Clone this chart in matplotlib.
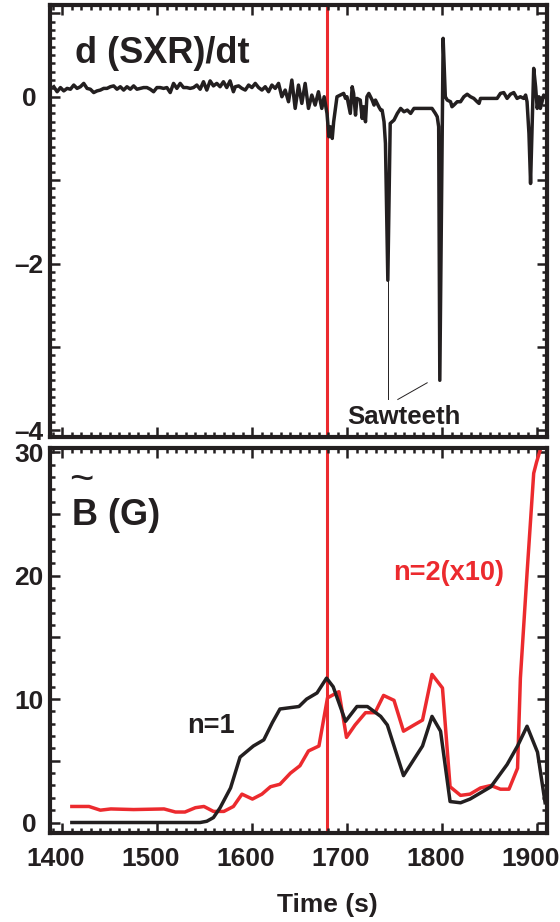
import matplotlib
matplotlib.use("Agg")
import matplotlib.pyplot as plt
import matplotlib.transforms as mtransforms
from matplotlib import font_manager
from matplotlib.ticker import MultipleLocator, FixedLocator

# pick a narrow bold sans if present
names = {f.name for f in font_manager.fontManager.ttflist}
FONT = "Liberation Sans Narrow" if "Liberation Sans Narrow" in names else "Liberation Sans"
plt.rcParams["font.family"] = [FONT, "DejaVu Sans"]
plt.rcParams["font.weight"] = "bold"

BLACK = "#231f20"
RED = "#ec2a2e"

# --- d(SXR)/dt trace (top panel) ---
sxr_time = [
    1391, 1394.5, 1398, 1401.5, 1405, 1408.5, 1412, 1415.5, 1419, 1422.5,
    1426, 1429.5, 1433, 1436.5, 1440, 1443.5, 1447, 1450.5, 1454, 1457.5,
    1461, 1464.5, 1468, 1471.5, 1475, 1478.5, 1482, 1485.5,
    1489, 1492.5, 1496, 1499.5, 1503, 1506.5, 1510, 1513.5, 1517, 1520.5,
    1524, 1527.5, 1531, 1534.5, 1538, 1541.5, 1545, 1548.5, 1552, 1555.5,
    1559, 1562.5, 1566, 1569.5, 1573, 1576.5, 1580,
    1582, 1585.5, 1589, 1592.5, 1596, 1599.5, 1603, 1606.5, 1610, 1613.5,
    1617, 1620.5, 1624, 1627.5, 1631, 1634.5, 1638, 1641.5, 1645, 1648.5,
    1652, 1655.5, 1659, 1662.5, 1666, 1669.5, 1673, 1675.5,
    1678.5, 1680.5, 1682, 1684, 1685.5, 1689, 1692.5, 1696, 1698, 1699.5,
    1703, 1705, 1706.5, 1708.5, 1710, 1713.5, 1715.5, 1717, 1719, 1720.5,
    1722.5, 1726, 1728, 1729.5, 1733, 1735, 1736.5, 1738.5, 1740, 1742.5,
    1745, 1747, 1749, 1752.5, 1756, 1759.5, 1763, 1766.5, 1770, 1777,
    1784, 1789, 1792.5, 1794.5, 1796, 1797.2, 1800.7, 1803, 1805, 1808.5,
    1810, 1812, 1815.5, 1819, 1822.5, 1826, 1829.5, 1833, 1836.5, 1838.5,
    1840, 1857.5, 1861, 1864.5, 1868, 1871.5, 1875, 1878.5, 1882, 1885.5,
    1887.5, 1889, 1891, 1892.7, 1896, 1898, 1899.7, 1901.5, 1903, 1906.5,
    1908.5, 1910,
]
sxr_value = [
    0.12, 0.06, 0.11, 0.07, 0.10, 0.09, 0.14, 0.10, 0.12, 0.16,
    0.10, 0.09, 0.05, 0.07, 0.08, 0.10, 0.10, 0.12, 0.13, 0.09,
    0.12, 0.08, 0.12, 0.09, 0.13, 0.09, 0.10, 0.11,
    0.11, 0.09, 0.06, 0.11, 0.11, 0.10, 0.11, 0.05, 0.16, 0.10,
    0.16, 0.11, 0.11, 0.10, 0.11, 0.14, 0.09, 0.18, 0.08, 0.19,
    0.13, 0.16, 0.12, 0.18, 0.11, 0.19, 0.06,
    0.12, 0.13, 0.10, 0.08, 0.14, 0.11, 0.16, 0.11, 0.08, 0.12,
    0.06, 0.14, 0.10, 0.16, 0.00, 0.08, -0.06, 0.20, -0.14, 0.14,
    -0.08, 0.16, -0.14, 0.02, -0.10, 0.06, -0.14, 0.00,
    -0.20, -0.48, -0.36, -0.50, -0.30, 0.00, 0.02, 0.04, -0.02, 0.00,
    -0.20, 0.12, 0.04, -0.22, -0.02, -0.04, -0.26, -0.12, -0.30, 0.00,
    0.04, -0.04, -0.10, -0.04, -0.12, -0.16, -0.16, -0.30, -0.56, -2.20,
    -0.32, -0.30, -0.28, -0.20, -0.14, -0.18, -0.16, -0.20, -0.14, -0.14,
    -0.14, -0.14, -0.20, -0.24, -0.36, -3.40, 0.70, 0.00, -0.04, -0.06,
    -0.12, -0.10, -0.06, -0.06, 0.00, 0.03, 0.00, -0.02, -0.06, -0.08,
    -0.02, -0.02, 0.04, 0.05, -0.02, 0.03, 0.05, -0.02, 0.00, -0.02,
    0.02, -0.06, -0.44, -1.04, 0.34, 0.12, -0.14, 0.00, -0.14, 0.02,
    0.00, 0.02,
]

# --- B~ amplitudes (bottom panel) ---
n1_time = [1410, 1545, 1552, 1559, 1566, 1577, 1587, 1601, 1612, 1621,
           1629, 1649, 1657, 1668, 1678, 1685, 1698, 1710, 1721, 1735,
           1742, 1759, 1779, 1789, 1798, 1808, 1819, 1829, 1851, 1868,
           1879, 1889, 1900, 1908]
n1_value = [0.0, 0.0, 0.1, 0.4, 1.2, 2.8, 5.3, 6.2, 6.7, 8.1,
            9.2, 9.4, 10.0, 10.5, 11.7, 11.0, 8.2, 9.4, 9.4, 8.6,
            7.9, 3.8, 6.2, 8.6, 7.4, 1.7, 1.6, 1.9, 2.9, 4.7,
            6.2, 7.8, 5.7, 1.6]

n2_time = [1410, 1428, 1440, 1451, 1475, 1507, 1519, 1529, 1540, 1549,
           1559, 1570, 1580, 1589, 1600, 1610, 1619, 1629, 1640, 1650,
           1659, 1670, 1679, 1691, 1699, 1708, 1719, 1729, 1738, 1749,
           1759, 1770, 1779, 1789, 1800, 1808, 1819, 1829, 1840, 1851,
           1861, 1870, 1879, 1882, 1889, 1896, 1899, 1908]
n2_value = [1.3, 1.3, 1.0, 1.1, 1.05, 1.1, 0.85, 0.85, 1.2, 1.3,
            0.9, 0.9, 1.3, 2.3, 1.9, 2.3, 2.9, 3.1, 4.0, 4.6,
            5.8, 6.2, 10.1, 10.6, 6.9, 7.9, 8.9, 8.9, 10.3, 9.9,
            7.4, 7.9, 8.3, 12.0, 10.9, 2.9, 2.2, 2.3, 2.8, 3.0,
            2.7, 2.7, 4.4, 11.7, 20.2, 28.3, 29.2, 31.5]

marker_time = 1678
sawteeth_tips = [(1742.4, -2.2), (1783.9, -3.43)]

W, H = 560, 922
fig = plt.figure(figsize=(W / 100, H / 100), dpi=100)
ax1 = fig.add_axes([50 / W, 1 - 437 / H, 497 / W, 432 / H])
ax2 = fig.add_axes([50 / W, 1 - 833 / H, 497 / W, 385 / H])

for ax in (ax1, ax2):
    ax.set_xlim(1387, 1910)
    ax.xaxis.set_major_locator(MultipleLocator(100))
    ax.xaxis.set_minor_locator(MultipleLocator(10))
    for s in ax.spines.values():
        s.set_linewidth(3.0)
        s.set_color(BLACK)
    ax.tick_params(which="both", direction="in", top=True, right=True,
                   color=BLACK, width=1.8, labelsize=19, labelcolor=BLACK)
    ax.tick_params(which="major", length=7)
    ax.tick_params(which="minor", length=3.5)
    ax.tick_params(axis="y", pad=15)
    ax.tick_params(axis="x", pad=10)
    ax.axvline(marker_time, color=RED, lw=2.2, zorder=1)

# top panel
ax1.plot(sxr_time, sxr_value, color=BLACK, lw=2.5, zorder=3)
ax1.set_ylim(-4.08, 1.1)
ax1.yaxis.set_major_locator(FixedLocator([-4, -3, -2, -1, 0, 1]))
ax1.yaxis.set_minor_locator(MultipleLocator(0.1))
ax1.set_yticklabels(["\u2013" + "4", "", "\u2013" + "2", "", "0", ""])
ax1.tick_params(axis="x", labelbottom=False)
ax1.text(1413.7, 0.40, "d (SXR)/dt", fontsize=26, color=BLACK, ha="left",
         va="baseline")
ax1.plot([sawteeth_tips[0][0], 1742.4], [sawteeth_tips[0][1], -3.62],
         color=BLACK, lw=0.7)
ax1.plot([sawteeth_tips[1][0], 1753], [sawteeth_tips[1][1], -3.63],
         color=BLACK, lw=0.7)
ax1.text(1759, -3.84, "Sawteeth", fontsize=18.5, color=BLACK, ha="center",
         va="center")

# bottom panel
ax2.plot(n1_time, n1_value, color=BLACK, lw=2.5, zorder=3)
ax2.plot(n2_time, n2_value, color=RED, lw=2.5, zorder=2)
ax2.set_ylim(-0.85, 30.35)
ax2.yaxis.set_major_locator(FixedLocator([0, 5, 10, 15, 20, 25, 30]))
ax2.yaxis.set_minor_locator(MultipleLocator(1))
ax2.set_yticklabels(["0", "", "10", "", "20", "", "30"])
ax2.text(1410.5, 24.1, "B (G)", fontsize=26, color=BLACK, ha="left",
         va="baseline")
ax2.text(1420, 27.7, "~", fontsize=30, color=BLACK, ha="center",
         va="center", fontweight="normal")
ax2.text(1556, 7.8, "n=1", fontsize=19.5, color=BLACK, ha="center", va="center")
ax2.text(1807, 20.2, "n=2(x10)", fontsize=19.5, color=RED, ha="center",
         va="center")

for ax in (ax1, ax2):
    plt.setp(ax.get_yticklabels(), ha="center")

# x tick labels sit a little left of their ticks in the original
shift = mtransforms.ScaledTranslation(-7 / 100, 0, fig.dpi_scale_trans)
for lab in ax2.get_xticklabels():
    lab.set_transform(lab.get_transform() + shift)

fig.text(327 / W, 1 - 905 / H, "Time (s)", fontsize=19, color=BLACK,
         ha="center", va="center")

fig.savefig("out.png", dpi=100)
